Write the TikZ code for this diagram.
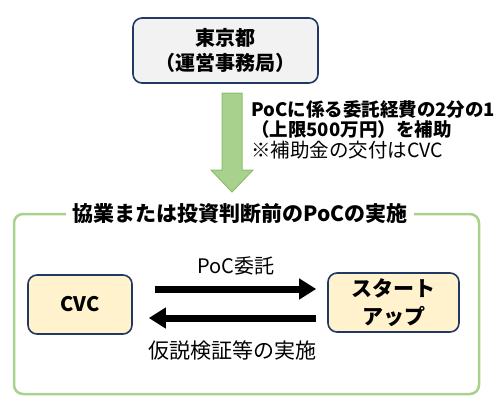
\documentclass[tikz,border=0pt]{standalone}
\usepackage{fontspec}
\setmainfont{Noto Sans CJK JP}
\usetikzlibrary{arrows.meta}
\definecolor{navy}{HTML}{1F3864}
\definecolor{boxgray}{HTML}{F2F2F2}
\definecolor{cream}{HTML}{FFF2CC}
\definecolor{leaf}{HTML}{A9D18E}
\definecolor{leafdark}{HTML}{8DBE6C}
\tikzset{
  orgbox/.style={draw=navy, line width=1.6pt, rounded corners=9pt, align=center, inner sep=0pt},
  flow/.style={line width=7pt, -{Triangle[length=17pt,width=20pt]}},
}
\begin{document}
\begin{tikzpicture}[x=1pt, y=-1pt]
\useasboundingbox (0,0) rectangle (500,408);
% 東京都
\node[orgbox, fill=boxgray, minimum width=185pt, minimum height=65pt,
      font=\fontsize{20}{25}\selectfont\bfseries] (tokyo) at (225.5,50.5) {東京都\\（運営事務局）};
% 補助の矢印
\coordinate (arrtop) at (232,93);
\draw[fill=leaf, draw=leafdark, line width=1pt]
  ([xshift=-10pt]arrtop) -- ([xshift=10pt]arrtop) -- ([xshift=10pt,yshift=-77pt]arrtop)
  -- ([xshift=21pt,yshift=-77pt]arrtop) -- ([yshift=-99pt]arrtop)
  -- ([xshift=-21pt,yshift=-77pt]arrtop) -- ([xshift=-10pt,yshift=-77pt]arrtop) -- cycle;
\node[anchor=north west, align=left, inner sep=0pt,
      font=\fontsize{18.5}{20.5}\selectfont] (subsidy) at (251,100)
  {\textbf{PoCに係る委託経費の2分の1}\\\textbf{（上限500万円）を補助}\\{\fontsize{19.5}{20.5}\selectfont ※補助金の交付はCVC}};
% PoCの枠
\draw[leaf, line width=2.5pt, rounded corners=9pt] (14,214) rectangle (479,394);
\node[fill=white, inner xsep=6pt, font=\fontsize{21}{25}\selectfont\bfseries] (poc) at (240,214)
  {協業または投資判断前のPoCの実施};
% CVC とスタートアップ
\node[orgbox, fill=cream, minimum width=104pt, minimum height=59pt,
      font=\fontsize{20}{25}\selectfont\bfseries] (cvc) at (80,304.5) {CVC};
\node[orgbox, fill=cream, minimum width=131pt, minimum height=59pt,
      font=\fontsize{21}{28}\selectfont\bfseries] (startup) at (393.5,302.5) {スタート\\アップ};
\draw[flow] ([xshift=22pt,yshift=15.5pt]cvc.east) -- ([xshift=-11pt,yshift=13.5pt]startup.west)
  node[midway, above=7pt, font=\fontsize{20}{24}\selectfont] (entrust) {PoC委託};
\draw[flow] ([xshift=-11pt,yshift=-15.5pt]startup.west) -- ([xshift=16pt,yshift=-13.5pt]cvc.east)
  node[midway, below=16pt, font=\fontsize{21}{25}\selectfont] (verify) {仮説検証等の実施};
\end{tikzpicture}
\end{document}
